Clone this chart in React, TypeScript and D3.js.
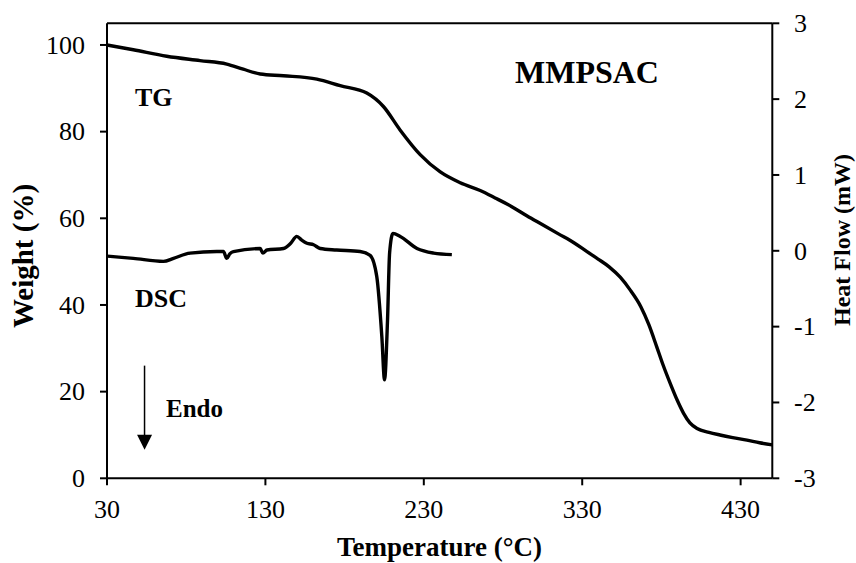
import React from "react";
import * as d3 from "d3";

const tgTemp = [30, 46.6, 67.7, 88.7, 105.6, 116, 126.7, 141.4, 162.5, 177.2, 194, 204.5, 215, 227.7, 240.4, 253, 265.6, 275, 285, 295, 305, 315, 325, 333, 340, 347, 354, 360, 367, 372, 377, 381, 386, 390, 394, 398, 402.5, 410, 417, 425, 434, 442, 450];
const tgWeight = [100, 98.9, 97.4, 96.4, 95.6, 94.4, 93.3, 92.9, 92.1, 90.6, 88.9, 85.8, 80.4, 74.7, 70.7, 68.2, 66.4, 64.7, 62.8, 60.6, 58.5, 56.4, 54.3, 52.3, 50.6, 48.8, 46.4, 43.6, 39.6, 35.5, 30.4, 26.2, 21.5, 18.0, 15.0, 12.8, 11.5, 10.6, 10.0, 9.4, 8.8, 8.2, 7.7];

const dscTemp = [30, 46.6, 65.6, 72, 82.4, 99.3, 103.5, 105.6, 107.5, 109.8, 126.7, 128.4, 131, 141.4, 146, 149.8, 153, 156.2, 160.4, 164.6, 175, 189.8, 196.1, 200.3, 203.5, 205.2, 207.1, 208.4, 210.5, 215.1, 225.7, 236.2, 247.7];
const dscFlow = [-0.07, -0.10, -0.14, -0.10, -0.03, -0.01, -0.01, -0.10, -0.04, -0.01, 0.03, -0.03, 0.01, 0.03, 0.10, 0.19, 0.14, 0.10, 0.08, 0.03, 0.01, -0.01, -0.06, -0.34, -1.13, -1.70, -0.91, -0.03, 0.23, 0.19, 0.03, -0.03, -0.05];

const xTicks = [30, 130, 230, 330, 430];
const yLeftTicks = [0, 20, 40, 60, 80, 100];
const yRightTicks = [-3, -2, -1, 0, 1, 2, 3];

const W = 856;
const H = 563;
const L = 107;
const R = 772.3;
const T = 23.3;
const B = 478.3;
const FONT = "'Liberation Serif', 'Times New Roman', serif";

export default function App() {
  const x = d3.scaleLinear().domain([30, 450]).range([L, R]);
  const yL = d3.scaleLinear().domain([0, 105]).range([B, T]);
  const yR = d3.scaleLinear().domain([-3, 3]).range([B, T]);

  const tgLine = d3
    .line<number>()
    .x((_, i) => x(tgTemp[i]))
    .y((d) => yL(d))
    .curve(d3.curveMonotoneX);
  const dscLine = d3
    .line<number>()
    .x((_, i) => x(dscTemp[i]))
    .y((d) => yR(d))
    .curve(d3.curveMonotoneX);

  const arrowX = x(53.7);
  const arrowTop = yL(26);
  const arrowTip = yL(6.6);

  return (
    <svg
      width={W}
      height={H}
      style={{ position: "absolute", left: 0, top: 0, background: "#fff" }}
      fontFamily={FONT}
    >
      <rect x={0} y={0} width={W} height={H} fill="#fff" />
      {/* frame */}
      <line x1={L} x2={R} y1={T} y2={T} stroke="#000" strokeWidth={2} />
      <line x1={L} x2={R} y1={B} y2={B} stroke="#000" strokeWidth={2} />
      <line x1={L} x2={L} y1={T} y2={B} stroke="#000" strokeWidth={2} />
      <line x1={R} x2={R} y1={T} y2={B} stroke="#000" strokeWidth={2} />

      {/* x ticks */}
      {xTicks.map((t) => (
        <g key={"x" + t}>
          <line x1={x(t)} x2={x(t)} y1={B} y2={B + 7} stroke="#000" strokeWidth={2} />
          <text x={x(t)} y={518} textAnchor="middle" fontSize={26}>
            {t}
          </text>
        </g>
      ))}
      {/* left ticks */}
      {yLeftTicks.map((t) => (
        <g key={"l" + t}>
          <line x1={L - 7} x2={L} y1={yL(t)} y2={yL(t)} stroke="#000" strokeWidth={2} />
          <text x={85} y={yL(t)} dy="0.34em" textAnchor="end" fontSize={26}>
            {t}
          </text>
        </g>
      ))}
      {/* right ticks */}
      {yRightTicks.map((t) => (
        <g key={"r" + t}>
          <line x1={R} x2={R + 7} y1={yR(t)} y2={yR(t)} stroke="#000" strokeWidth={2} />
          <text x={794} y={yR(t)} dy="0.34em" textAnchor="start" fontSize={26}>
            {t}
          </text>
        </g>
      ))}

      {/* curves */}
      <path d={tgLine(tgWeight) || ""} fill="none" stroke="#000" strokeWidth={3.4} strokeLinejoin="round" />
      <path d={dscLine(dscFlow) || ""} fill="none" stroke="#000" strokeWidth={3.4} strokeLinejoin="round" />

      {/* annotations */}
      <text x={135} y={106} fontSize={26} fontWeight="bold">TG</text>
      <text x={135} y={307} fontSize={26} fontWeight="bold">DSC</text>
      <text x={166} y={417} fontSize={25} fontWeight="bold">Endo</text>
      <text x={515} y={82.5} fontSize={32} fontWeight="bold">MMPSAC</text>
      <line x1={arrowX} x2={arrowX} y1={arrowTop} y2={arrowTip - 12} stroke="#000" strokeWidth={1.5} />
      <path
        d={`M${arrowX - 7.5},${arrowTip - 15} L${arrowX + 7.5},${arrowTip - 15} L${arrowX},${arrowTip} Z`}
        fill="#000"
      />

      {/* axis titles */}
      <text x={439.5} y={556} textAnchor="middle" fontSize={27} fontWeight="bold">
        Temperature (°C)
      </text>
      <text
        transform={`translate(33,256) rotate(-90)`}
        textAnchor="middle"
        fontSize={29}
        fontWeight="bold"
      >
        Weight (%)
      </text>
      <text
        transform={`translate(850,240) rotate(-90)`}
        textAnchor="middle"
        fontSize={24}
        fontWeight="bold"
      >
        Heat Flow (mW)
      </text>
    </svg>
  );
}
